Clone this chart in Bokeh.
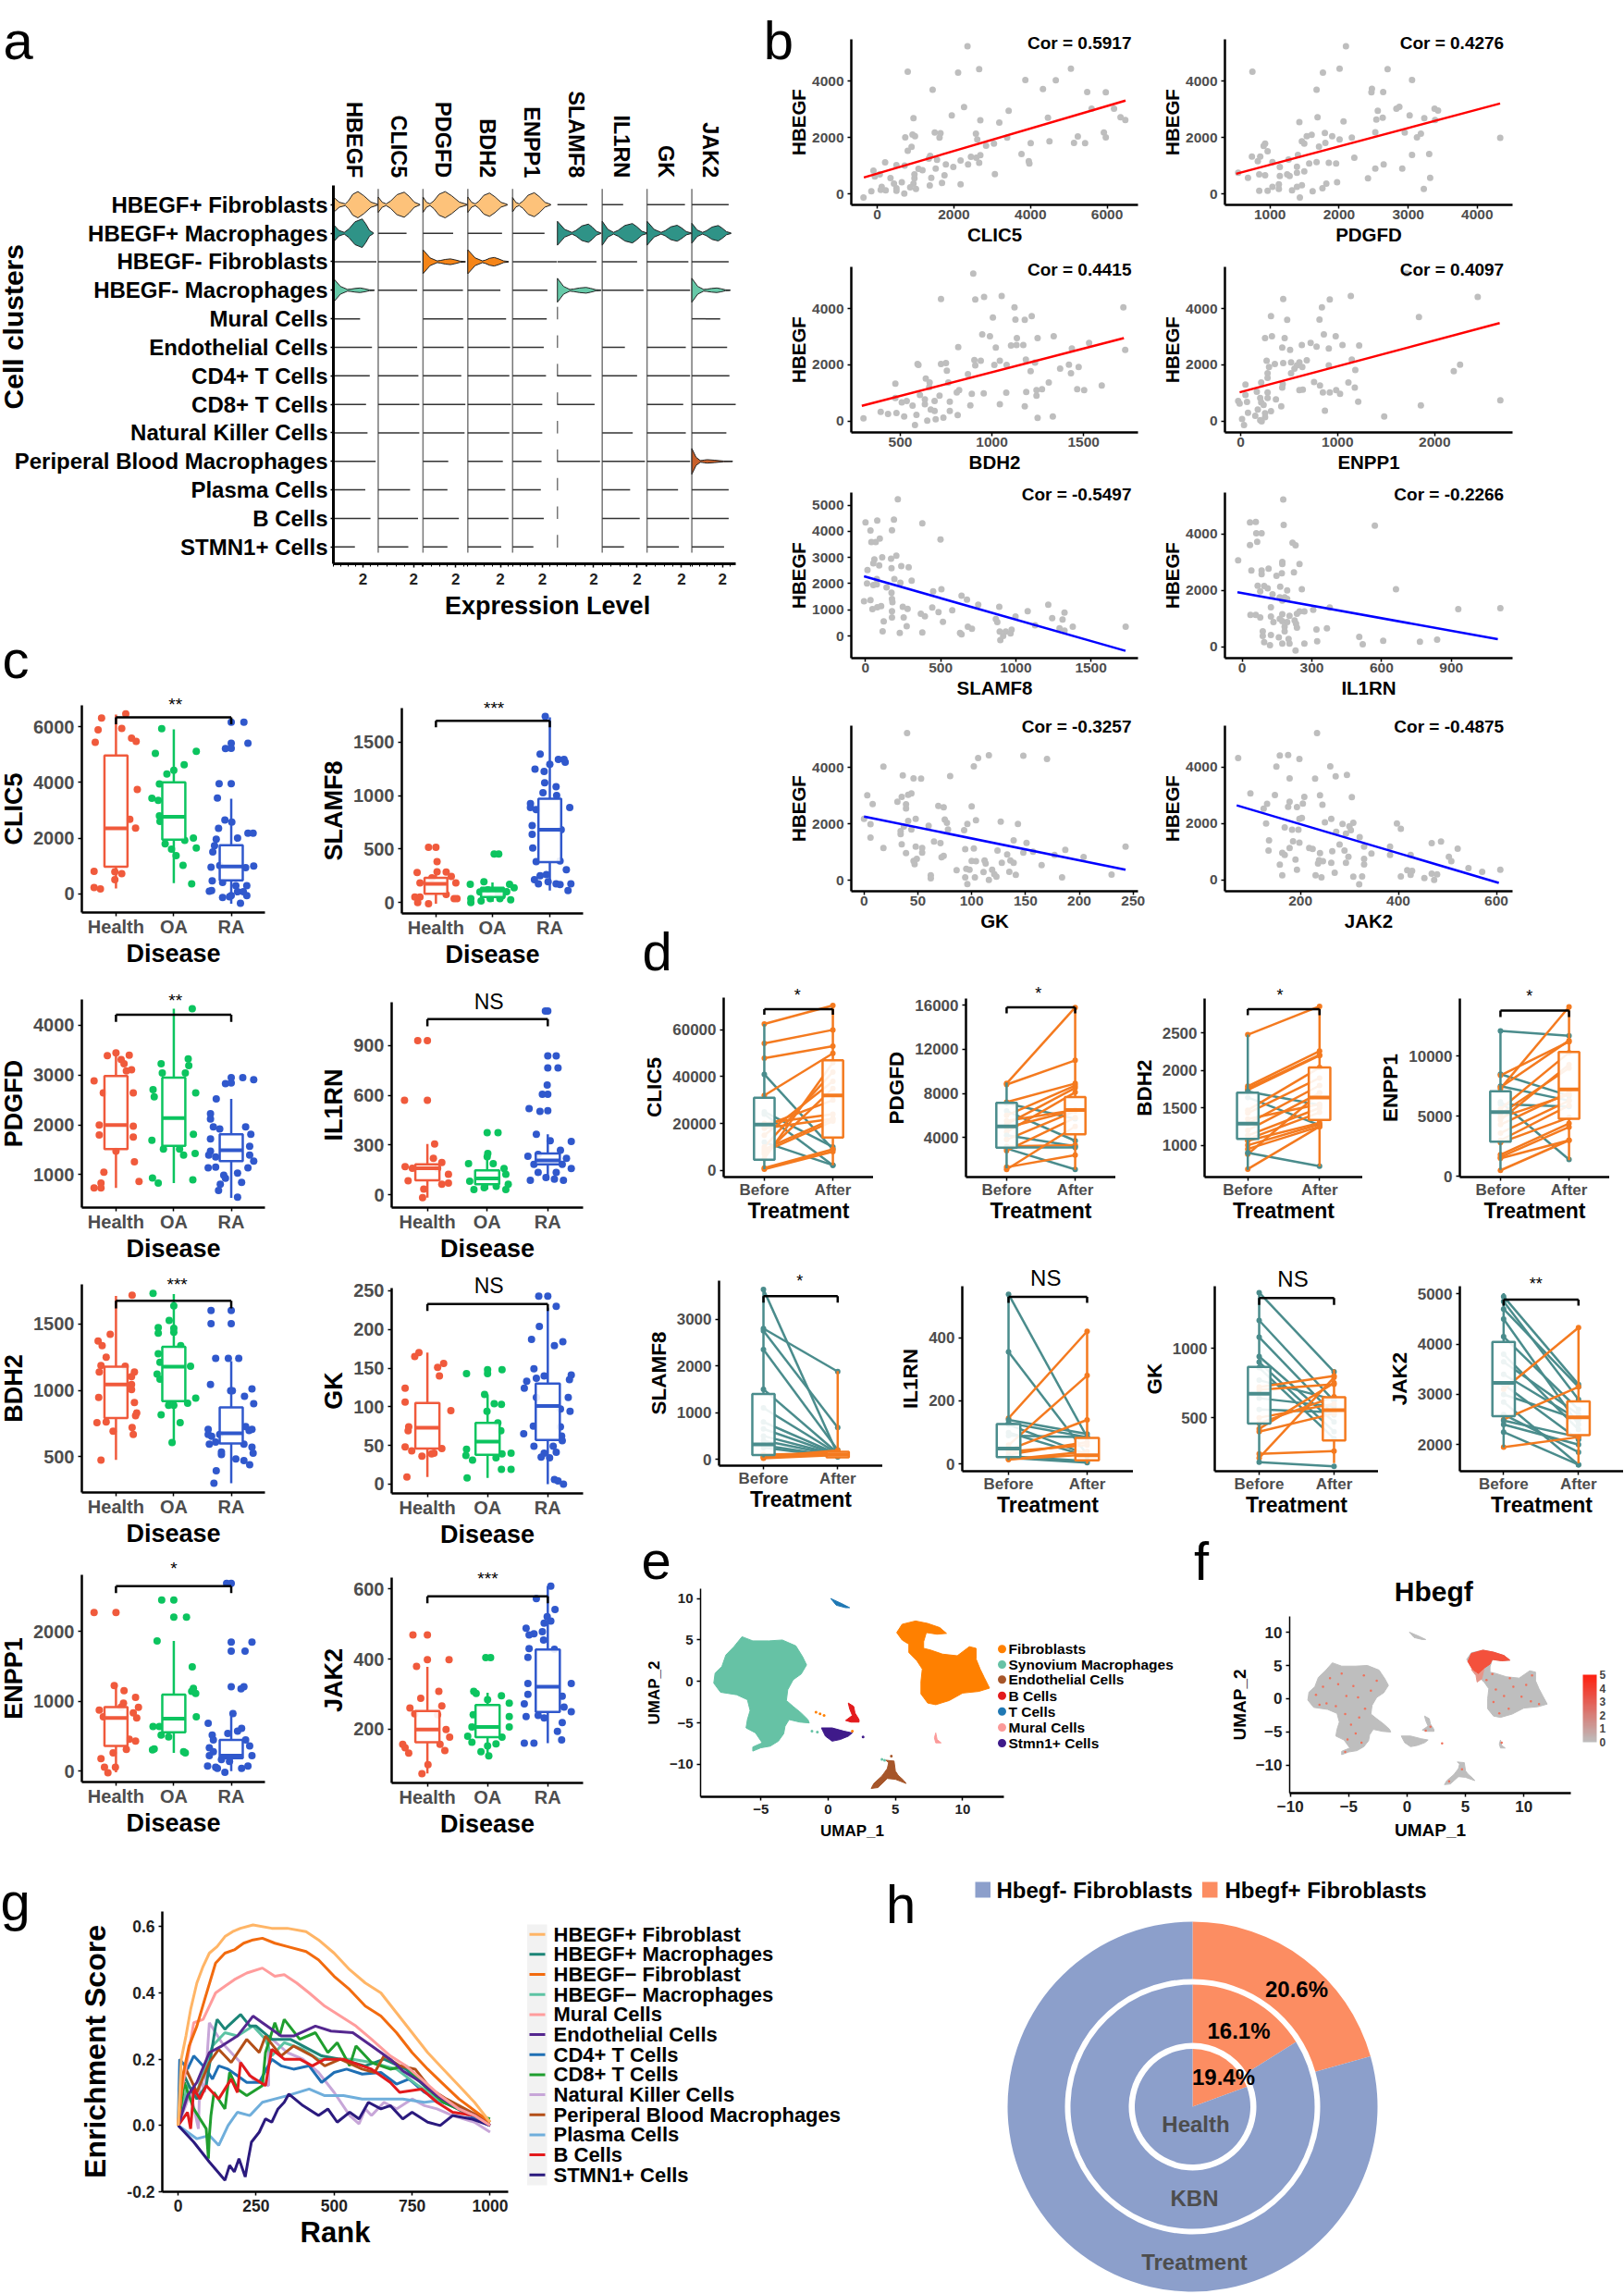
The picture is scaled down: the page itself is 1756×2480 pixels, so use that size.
from math import pi
from bokeh.plotting import figure
from bokeh.layouts import column
from bokeh.models import Range1d, FixedTicker, Label, ColorBar, LinearColorMapper, NumeralTickFormatter
from bokeh.core.properties import value
from bokeh.embed import file_html
from bokeh.resources import INLINE

FONT = "Liberation Sans"
GREY = "#4D4D4D"

# ---------------- panel a data ----------------
A_ROWS = ["HBEGF+ Fibroblasts","HBEGF+ Macrophages","HBEGF- Fibroblasts","HBEGF- Macrophages","Mural Cells","Endothelial Cells","CD4+ T Cells","CD8+ T Cells","Natural Killer Cells","Periperal Blood Macrophages","Plasma Cells","B Cells","STMN1+ Cells"]
A_GENES = ["HBEGF","CLIC5","PDGFD","BDH2","ENPP1","SLAMF8","IL1RN","GK","JAK2"]
A_XMAX = [3.02,2.53,2.75,2.75,3.02,2.47,2.57,2.60,2.92]
# (row, gene, zero-level height, neck, peak, peak height, end)
A_VIOLINS = [(0,0,.27,.8,1.65,.46,3.0),(0,1,.27,.45,1.47,.44,2.35),(0,2,.27,.43,1.36,.46,2.7),(0,3,.27,.46,1.33,.41,2.43),(0,4,.25,.44,1.46,.42,2.57),
 (1,0,.31,.73,1.94,.5,2.7),(1,5,.42,.8,1.71,.32,2.4),(1,6,.42,.65,1.73,.34,2.57),(1,7,.42,.82,1.75,.28,2.57),(1,8,.35,.7,1.72,.27,2.55),
 (2,2,.42,.87,1.68,.1,2.6),(2,3,.42,.9,1.62,.15,2.5),
 (3,0,.42,.95,1.8,.08,2.76),(3,5,.42,.68,1.58,.1,2.4),(3,8,.42,.77,1.63,.08,2.5),
 (9,8,.45,.55,1.0,.06,2.65)]
A_ROW_COLORS = {0:"#FDC27A",1:"#2F9387",2:"#F58518",3:"#66C9A8",9:"#C9602A"}
# end of the flat line per row, per gene (None: no line, 0: violin)
A_LINES = [
 [0,0,0,0,0,1.65,1.2,2.2,2.4],
 [0,1.6,1.85,2.1,2.15,0,0,0,0],
 [2.9,2.4,0,0,2.98,2.15,2.0,2.4,2.4],
 [0,2.2,2.45,2.0,2.35,0,2.37,2.5,0],
 [1.8,None,2.46,2.35,2.3,None,None,None,1.85],
 [2.6,2.2,2.5,2.6,2.1,None,1.3,2.25,2.3],
 [2.45,2.27,2.35,2.55,2.25,1.87,2.0,2.5,2.45],
 [2.2,2.32,2.6,2.65,2.0,2.05,None,2.1,2.9],
 [2.3,2.32,2.55,2.55,2.0,None,1.75,2.25,2.25],
 [2.85,None,1.55,2.15,1.95,2.35,2.45,2.5,0],
 [2.15,1.8,1.5,2.3,1.9,None,1.6,1.8,2.4],
 [2.5,2.25,2.2,2.5,2.1,None,2.15,2.45,2.4],
 [1.45,1.7,1.5,2.05,1.4,None,1.25,1.85,2.1]]

# ---------------- panel b data ----------------
B_CLIC5=[(2355,5240),(795,4340),(2110,4310),(2660,4430),(5055,4450),(3865,4045),(4660,4035),(4325,3725),(1445,3695),(5480,3615),(5965,3605),(2265,3080),(3430,2950),(5595,3025),(6180,3025),(1945,2785),(945,2685),(2690,2610),(3185,2530),(4455,2705),(6350,2720),(6475,2620),(1500,2180),(1650,2150),(730,2005),(920,2105),(985,2050),(1625,1995),(2575,2135),(2610,1930),(3390,1995),(5915,2180),(5235,2040),(5965,2005),(895,1665),(795,1525),(2840,1710),(3045,1785),(4005,1800),(4495,1865),(5135,1810),(5425,1800),(3765,1415),(3955,1160),(3970,1075),(205,1120),(1380,1350),(1345,1250),(1560,1205),(2175,1185),(2445,1315),(2585,1280),(2690,1370),(2660,1105),(2370,1040),(1790,1040),(1985,955),(1525,900),(1075,890),(1180,835),(500,1020),(715,1000),(-100,820),(65,690),(-65,615),(970,690),(970,550),(345,560),(1410,570),(1755,655),(3070,700),(640,415),(1690,385),(2175,340),(945,360),(435,360),(1370,295),(860,230),(115,250),(90,140),(220,120),(500,195),(500,110),(1010,175),(-155,90),(705,10),(-360,-130)]
B_PDGFD=[(2099,5240),(745,4340),(1766,4310),(2007,4450),(2702,4430),(3056,4045),(1674,3695),(2475,3735),(2468,3605),(2638,3615),(2560,2950),(3382,3025),(3432,2960),(2872,3090),(2829,3025),(3021,2785),(1688,2720),(2539,2640),(2631,2705),(3233,2685),(3389,2620),(1425,2545),(2064,2575),(1794,2160),(2524,2190),(2950,2180),(3184,2135),(4332,1985),(2184,1995),(2007,1930),(1900,2050),(1532,2050),(1603,2095),(1461,1865),(1496,1785),(1801,1810),(929,1785),(908,1700),(965,1510),(1709,1675),(3127,2005),(738,1325),(858,1325),(823,1160),(1404,1380),(3056,1380),(3304,1415),(1035,1130),(1269,1215),(2220,1280),(1142,950),(1390,965),(1567,1075),(1674,1130),(1851,1105),(1957,1075),(2524,900),(2645,1040),(2914,900),(539,745),(681,570),(844,690),(929,655),(1248,690),(1284,635),(1390,745),(1496,800),(1142,635),(2418,550),(3318,570),(1971,415),(1815,360),(1128,340),(1461,305),(1390,250),(1035,250),(844,110),(965,110),(1128,175),(1319,120),(1617,90),(1759,195),(3226,175),(1432,-130)]
B_BDH2=[(898,5240),(722,4340),(909,4320),(957,4415),(1053,4440),(1123,4045),(1717,4045),(1005,3680),(1128,3605),(1179,3595),(1217,3725),(947,3080),(989,3015),(1136,2950),(1249,2950),(1337,3015),(1530,2775),(816,2630),(1021,2610),(1104,2685),(1134,2705),(1171,2705),(1436,2575),(1727,2530),(594,2030),(599,1995),(722,2030),(749,2060),(904,2170),(939,2140),(909,1975),(1013,1995),(1043,2140),(1080,1995),(1185,2180),(1235,2080),(1420,2005),(1473,1920),(1372,1865),(1431,1700),(1211,1775),(754,1785),(869,1665),(639,1510),(473,1325),(660,1370),(762,1370),(1310,1370),(658,1205),(821,1095),(808,1020),(1243,1095),(1273,1130),(1187,1030),(1078,1010),(890,965),(955,985),(1243,900),(1465,1130),(1503,1095),(1599,1260),(607,930),(714,900),(473,820),(535,710),(508,660),(634,770),(687,710),(770,690),(567,550),(634,600),(882,560),(1043,600),(1179,525),(666,405),(687,360),(770,360),(393,330),(433,250),(479,285),(813,210),(521,165),(588,220),(1332,165),(1249,110),(299,100),(693,65),(735,120),(647,10),(580,-140)]
B_ENPP1=[(1712,5240),(439,4340),(919,4320),(1136,4440),(2444,4415),(838,4045),(313,3725),(480,3595),(813,3605),(1838,3695),(323,3015),(252,2950),(454,2950),(858,3080),(980,3015),(429,2610),(510,2530),(631,2705),(722,2775),(783,2640),(909,2575),(1050,2705),(1222,2685),(268,2140),(353,2030),(293,1920),(439,2060),(520,2085),(606,2085),(682,2160),(581,1975),(636,1920),(555,1865),(909,1975),(1146,2180),(1182,1810),(2197,1775),(2262,2005),(278,1700),(278,1535),(520,1700),(212,1370),(50,1295),(434,1315),(757,1390),(818,1260),(1111,1370),(1177,1185),(429,1185),(606,1095),(641,1115),(848,1020),(919,1020),(985,1095),(1025,965),(167,1040),(278,1020),(-25,710),(-10,625),(50,930),(66,680),(202,820),(278,820),(212,660),(237,570),(364,770),(1212,690),(1858,560),(2677,735),(419,525),(177,405),(313,350),(76,295),(151,185),(252,275),(252,140),(869,370),(1480,165),(15,75),(202,30),(217,-10),(35,-140)]
B_SLAMF8=[(215,5225),(0,4340),(78,4410),(189,4445),(378,4305),(33,4030),(176,4045),(499,3690),(95,3725),(39,3595),(68,3595),(111,3005),(59,2925),(170,2950),(205,3065),(52,2780),(91,2700),(173,2595),(238,2675),(287,2630),(13,2525),(307,2110),(75,2180),(192,2180),(232,2030),(10,2005),(52,1945),(75,1970),(140,1860),(173,1650),(450,1710),(505,1790),(639,1535),(675,1390),(750,1190),(176,1415),(179,1295),(33,1370),(-10,1330),(1216,1190),(890,1110),(1079,945),(104,1145),(78,1095),(46,1025),(176,945),(248,1110),(280,1035),(444,1085),(577,980),(486,910),(368,850),(395,755),(176,710),(254,710),(998,745),(1242,685),(1311,625),(1324,895),(867,650),(877,530),(121,555),(515,540),(274,375),(681,355),(708,270),(1128,410),(1379,355),(1291,295),(1731,355),(1324,200),(114,175),(378,130),(228,115),(629,115),(639,60),(893,165),(972,235),(933,165),(965,95),(916,0),(897,-155)]
B_IL1RN=[(177,5215),(179,4315),(34,4405),(59,4425),(571,4295),(61,4020),(84,4020),(65,3715),(34,3605),(217,3685),(230,3595),(-17,3060),(173,3005),(173,2930),(247,2930),(114,2765),(40,2700),(84,2700),(84,2570),(148,2515),(171,2600),(223,2635),(67,2165),(95,2155),(110,2075),(164,2130),(194,2000),(257,2035),(662,2035),(78,1965),(131,1860),(162,1750),(183,1750),(194,1695),(173,1640),(124,1400),(377,1390),(930,1335),(1111,1365),(247,1255),(268,1255),(306,1310),(36,1125),(59,1125),(78,1040),(124,1070),(173,1150),(204,1095),(236,1170),(162,985),(135,875),(173,905),(194,875),(226,930),(232,820),(183,710),(236,680),(183,545),(89,545),(320,610),(365,655),(89,380),(124,415),(158,330),(504,350),(95,165),(120,55),(173,110),(200,275),(204,110),(268,110),(323,195),(519,90),(607,210),(765,175),(839,250),(230,-130)]
B_GK=[(40,5230),(18,4035),(102,4045),(106,4340),(116,4440),(148,4420),(170,4310),(36,3725),(46,3615),(53,3605),(80,3695),(3,3015),(44,3080),(41,3035),(35,2960),(8,2705),(31,2785),(39,2695),(39,2545),(69,2640),(74,2585),(100,2620),(0,2180),(48,2180),(75,2150),(77,2040),(104,2125),(127,2080),(143,1995),(41,2105),(6,1985),(96,1995),(37,1905),(34,1740),(60,1930),(44,1800),(34,1635),(78,1800),(93,1775),(6,1510),(139,1415),(65,1370),(71,1315),(151,1325),(35,1270),(18,1140),(48,1195),(54,1140),(54,975),(39,965),(94,1105),(102,1130),(124,1050),(148,975),(157,1010),(187,1075),(243,1195),(74,865),(72,810),(133,910),(177,900),(204,820),(49,755),(46,680),(47,570),(100,680),(104,670),(112,700),(113,590),(128,615),(136,700),(139,615),(165,535),(86,350),(95,405),(98,370),(111,285),(119,370),(135,295),(121,210),(141,185),(62,175),(62,65),(94,100),(103,100),(123,120),(184,100),(230,195),(116,10),(96,-140)]
B_JAK2=[(234,5200),(73,4320),(158,4405),(175,4425),(198,4285),(261,4020),(151,4010),(272,3670),(295,3715),(230,3585),(178,3595),(98,3060),(148,3005),(208,2940),(240,2995),(305,2930),(178,2765),(132,2690),(175,2590),(193,2580),(205,2700),(245,2665),(125,2525),(198,2165),(203,2195),(263,2165),(250,2035),(308,2020),(286,1980),(300,1900),(397,2000),(130,2000),(168,1860),(183,1780),(196,1780),(273,1705),(303,1760),(405,1805),(293,1640),(321,1510),(136,1400),(185,1365),(198,1320),(280,1255),(330,1180),(383,1180),(487,1355),(468,1300),(135,1040),(178,1125),(218,1125),(225,1095),(265,1015),(290,1040),(521,1105),(163,960),(168,885),(240,950),(298,820),(345,930),(383,885),(425,885),(190,720),(238,690),(246,665),(330,745),(503,820),(508,665),(158,535),(236,580),(263,600),(293,600),(330,545),(543,415),(193,360),(418,340),(428,320),(608,360),(571,285),(270,250),(163,165),(231,165),(243,85),(308,110),(326,120),(405,120),(425,175),(468,220),(479,195),(453,65),(473,0),(320,-155)]
B_FITS={"CLIC5":[(-350,580),(6480,3310)],"PDGFD":[(510,710),(4330,3210)],"BDH2":[(290,540),(1720,2950)],"ENPP1":[(-10,1020),(2670,3480)],"SLAMF8":[(-10,2280),(1730,-570)],"IL1RN":[(-20,1930),(1100,270)],"GK":[(0,2260),(243,370)],"JAK2":[(70,2640),(605,-110)]}
B_COR={"CLIC5":"0.5917","PDGFD":"0.4276","BDH2":"0.4415","ENPP1":"0.4097","SLAMF8":"-0.5497","IL1RN":"-0.2266","GK":"-0.3257","JAK2":"-0.4875"}

# ---------------- panel c data: (jitter, value) ----------------
C_GROUPS=["Health","OA","RA"]
CLIC5_H=[(-.25,6320),(-.31,5900),(-.36,5450),(.17,6470),(.10,5950),(.27,5600),(.35,5480),(.37,3750),(.24,2680),(.34,2360),(-.38,800),(-.38,220),(-.27,175),(-.02,790),(.10,720),(-.02,500)]
CLIC5_O=[(-.21,5940),(-.32,5050),(.39,5120),(.18,4640),(0,4440),(-.12,4310),(-.25,3950),(-.38,3430),(-.27,3360),(-.25,2800),(-.24,2600),(.34,2000),(.19,1920),(.39,1640),(-.15,1790),(-.04,1600),(.04,1370),(.16,1020),(.31,350)]
CLIC5_R=[(0,6170),(.22,6170),(0,5410),(.29,5410),(-.1,5220),(0,5230),(-.21,3960),(0,3960),(-.24,3440),(-.11,2650),(.01,2580),(-.22,2350),(.29,2180),(.38,2180),(.11,2000),(-.26,1960),(-.29,1730),(-.32,1500),(.39,995),(-.35,950),(-.2,1010),(.25,940),(-.33,460),(-.15,400),(.27,290),(.08,290),(-.34,115),(-.38,90),(-.15,-140),(0,-70),(.11,70),(.27,-70),(.16,-345),(-.03,-115),(.21,70)]
CLIC5_BOX=[(966,2350,4975,190,6450),(1945,2770,4010,375,5910),(475,975,1745,-360,3420)]
SLAMF8_H=[(-.13,517),(0,517),(.02,382),(-.33,281),(.18,285),(.27,244),(.02,289),(-.07,232),(.35,184),(-.28,184),(-.37,52),(-.28,52),(-.32,0),(-.13,-11),(.32,37),(.37,37),(.18,75)]
SLAMF8_O=[(.03,454),(.11,454),(-.39,172),(-.15,195),(-.38,37),(-.38,0),(-.2,15),(-.04,37),(.13,37),(.32,26),(.3,172),(.38,139),(.25,101),(-.22,100),(.1,82),(-.08,120),(.17,64)]
SLAMF8_R=[(-.08,1740),(-.17,1388),(.15,1339),(.25,1339),(.27,1312),(-.26,1249),(-.1,1226),(0,1294),(-.09,1121),(.11,1084),(-.12,1028),(.12,1001),(-.34,926),(-.34,889),(.35,889),(-.24,870),(-.31,720),(-.31,638),(.2,682),(-.3,510),(-.24,382),(.18,390),(.29,307),(-.17,251),(-.06,262),(-.27,214),(-.2,176),(-.03,195),(.11,176),(.18,169),(.37,176),(.32,112)]
SLAMF8_BOX=[(82,176,232,-11,289),(52,112,139,7,188),(379,682,971,112,1732)]
PDGFD_H=[(0,3444),(-.15,3388),(.23,3396),(.09,3307),(.14,3227),(.27,3106),(.18,3082),(-.38,2881),(-.22,2640),(.3,2640),(-.29,1997),(.3,1973),(-.29,1796),(.3,1756),(0,1474),(.32,1257),(-.21,1048),(-.26,831),(.4,863),(-.38,735),(-.26,735)]
PDGFD_O=[(.32,4329),(.25,3323),(.26,3187),(-.22,3227),(-.2,3042),(.2,3042),(-.36,2705),(-.34,2560),(.38,2640),(-.38,1691),(.34,1812),(.37,1426),(-.18,1514),(.1,1514),(.17,1394),(-.37,936),(-.27,831),(.33,895)]
PDGFD_R=[(.2,2946),(.39,2906),(0,2946),(-.1,2825),(0,2841),(-.26,2520),(-.36,2222),(-.36,2118),(-.31,1957),(.25,1957),(-.2,1917),(.34,1812),(-.36,1716),(-.36,1474),(.32,1571),(-.39,1394),(-.27,1354),(.32,1394),(.39,1273),(-.4,1137),(-.27,1153),(.29,1137),(-.13,992),(-.1,928),(.11,1032),(.18,847),(-.19,807),(-.22,686),(.11,550)]
PDGFD_BOX=[(1515,1997,2978,735,3444),(1579,2134,2946,831,4329),(1273,1490,1812,534,2520)]
IL1RN_H=[(-.16,929),(0,929),(-.38,569),(0,569),(.12,306),(-.37,169),(-.25,160),(.1,220),(.24,195),(.17,160),(.35,123),(.35,70),(-.32,84),(-.06,34),(-.08,-17),(.24,63)]
IL1RN_O=[(.18,374),(0,374),(.01,249),(0,229),(-.31,188),(.1,188),(.28,159),(-.29,82),(.31,123),(.35,63),(-.22,31),(-.05,43),(.15,51),(.31,31)]
IL1RN_R=[(-.04,1108),(0,1108),(0,837),(.14,837),(0,765),(.17,765),(-.01,661),(-.09,606),(0,606),(-.31,519),(-.13,502),(0,507),(-.19,364),(.04,326),(.39,321),(.21,268),(-.33,232),(-.16,244),(.31,220),(.24,183),(-.23,183),(.39,159),(-.16,135),(.14,135),(-.03,104),(-.29,87),(.11,94),(.26,87)]
IL1RN_BOX=[(87,160,183,-17,306),(63,99,147,31,244),(183,207,249,87,364)]
BDH2_H=[(.28,1718),(-.1,1423),(-.31,1373),(-.24,1338),(-.17,1250),(-.26,1188),(.16,1182),(.32,1138),(-.29,1138),(.27,1103),(.27,1044),(.27,1006),(-.3,947),(.32,909),(.36,829),(.34,809),(-.33,756),(-.17,762),(.28,720),(-.05,691),(.3,668),(-.26,474)]
BDH2_O=[(-.36,1732),(0,1638),(-.08,1527),(-.27,1474),(0,1468),(0,1438),(-.27,1432),(.12,1338),(-.27,1276),(-.24,1212),(.29,1182),(-.29,1123),(-.24,1085),(.38,941),(.24,903),(-.09,888),(0,888),(-.22,815),(.11,756),(-.03,606)]
BDH2_R=[(-.35,1603),(0,1603),(-.35,1503),(0,1503),(-.27,1241),(-.05,1241),(.13,1241),(-.36,1044),(-.01,997),(.02,997),(.36,1012),(.23,956),(.39,900),(.25,726),(.36,706),(.31,697),(-.4,706),(-.4,668),(-.34,653),(-.38,594),(-.2,668),(-.27,609),(.22,594),(.36,571),(-.17,535),(-.17,515),(.38,526),(.08,482),(.22,471),(.32,438),(-.26,394),(-.3,300)]
BDH2_BOX=[(791,1044,1179,476,1712),(918,1179,1329,609,1726),(600,676,871,300,1220)]
GK_H=[(-.14,170),(-.21,165),(.27,156),(.17,151),(.2,140),(-.37,124),(-.37,106),(.39,95),(-.31,74),(-.32,69),(-.37,48),(-.26,43),(.24,46),(-.09,36),(.11,40),(.07,39),(-.34,9)]
GK_O=[(-.35,143),(0,148),(0,143),(.24,148),(-.05,116),(.11,104),(.23,103),(-.01,94),(.17,79),(.22,69),(-.35,45),(-.36,37),(-.25,31),(.39,40),(.24,39),(.14,34),(.23,19),(.39,19),(-.34,8)]
GK_R=[(-.15,243),(0,243),(.14,230),(-.14,204),(-.27,187),(.25,184),(.11,179),(-.23,149),(.39,141),(-.06,140),(-.19,137),(.36,135),(-.35,133),(-.39,124),(.34,112),(-.19,112),(.21,97),(.37,94),(-.24,75),(.21,74),(-.4,65),(.23,62),(.24,56),(-.23,49),(.09,49),(.14,41),(-.06,40),(-.11,35),(.03,34),(.11,6),(.17,4),(.26,0)]
GK_BOX=[(46,73,105,9,170),(38,55,79,8,116),(57,101,130,0,228)]
ENPP1_H=[(-.38,2272),(0,2272),(-.03,1225),(.14,1153),(.34,1058),(.39,913),(-.29,874),(.13,975),(.09,919),(.3,835),(-.22,780),(.36,763),(.23,457),(.34,429),(.18,312),(-.05,262),(-.26,178),(-.2,56),(-.01,56),(-.14,-22)]
ENPP1_O=[(-.21,2451),(0,2451),(0,2206),(.22,2206),(-.29,1866),(.32,1493),(.34,1186),(.31,1142),(.38,1114),(.39,780),(-.36,640),(-.25,640),(-.22,518),(-.09,490),(-.37,306),(-.34,318),(.17,278),(.2,262)]
ENPP1_R=[(-.08,2690),(0,2690),(0,1849),(.36,1849),(0,1721),(.24,1721),(0,1209),(.22,1209),(.17,1181),(.03,824),(-.4,685),(.18,613),(.11,574),(-.06,540),(-.33,518),(-.31,446),(.25,446),(.32,362),(-.38,334),(-.31,278),(-.38,223),(.36,223),(-.17,167),(-.03,139),(-.41,72),(-.27,56),(.29,72),(.18,39),(-.24,39),(-.11,-17)]
ENPP1_BOX=[(362,763,919,-17,1225),(557,752,1097,262,1866),(184,223,446,0,824)]
JAK2_H=[(-.24,469),(0,469),(.36,398),(0,398),(-.18,379),(-.11,288),(.19,308),(-.29,260),(.24,266),(-.21,244),(.17,241),(.31,199),(.37,177),(-.41,157),(-.37,147),(-.31,132),(.21,157),(.29,139),(.01,99),(-.09,73)]
JAK2_O=[(-.03,404),(.05,404),(-.23,308),(-.19,302),(.23,295),(0,284),(.36,274),(-.24,241),(.36,236),(.36,206),(-.26,206),(-.33,180),(.24,177),(-.26,163),(.14,158),(0,152),(-.11,136),(.02,124)]
JAK2_R=[(.05,608),(-.19,572),(.12,541),(-.01,521),(.05,508),(-.06,502),(-.36,488),(-.09,478),(-.23,472),(-.31,469),(-.07,454),(-.31,430),(.11,428),(-.33,405),(.39,330),(-.33,330),(.24,294),(-.33,299),(-.39,272),(.27,263),(.39,250),(-.36,236),(-.16,239),(-.06,232),(.24,219),(.16,194),(-.39,160),(-.23,160),(.23,169)]
JAK2_BOX=[(163,199,252,74,378),(177,206,269,124,304),(249,321,427,160,608)]

# ---------------- panel d data ----------------
D_CLIC5_B=[62500,54200,47900,41000,32000,25000,24000,20000,19000,18000,15000,12000,10000,9000,8000,7000,5000,1000,500]
D_CLIC5_A=[70400,60000,53000,9000,50000,10000,2200,24000,30000,22000,38000,2200,42000,22000,21000,35000,46000,9000,8000]
D_PDGFD_B=[8900,8800,7200,7100,6400,6000,5500,5200,4900,4500,4200,3800,3200,3100,3000,2800,1300,1100]
D_PDGFD_A=[15800,11000,8900,5700,3700,8700,6500,8500,6500,8100,3200,6400,3300,3100,1100,5800,2400,5000]
D_BDH2_B=[2480,1790,1760,1740,1720,1640,1470,1430,1350,1290,1200,1130,1080,1060,1000,950,880,900,680]
D_BDH2_A=[2860,2260,2210,2200,1540,1270,2040,1900,1550,1800,1700,1500,1440,1300,1280,1250,1700,720,1250]
D_ENPP1_B=[12100,8500,8400,7500,7400,7300,6200,6000,5600,5200,4900,4700,4300,3600,3000,2800,1800,1600,1500,500]
D_ENPP1_A=[11700,6700,11200,6300,11300,14100,1400,5800,10300,9000,6800,9300,7000,6300,5900,4900,4400,4100,3000,3000]
D_SLAMF8_B=[3640,2800,2750,2350,1500,1100,800,650,500,400,300,250,100,50,30,20,60]
D_SLAMF8_A=[100,1880,680,200,130,120,110,100,90,80,60,50,130,190,170,90,110]
D_IL1RN_B=[537,355,145,140,130,125,100,90,60,45,40,30,25,20,15,15]
D_IL1RN_A=[85,30,420,95,85,30,25,85,280,140,60,70,10,5,40,30]
D_GK_B=[1400,1200,1080,940,900,860,770,720,700,640,560,500,460,420,400,240,210,180]
D_GK_A=[830,620,520,470,400,350,630,800,740,580,540,600,650,750,530,260,790,150]
D_JAK2_B=[4950,4850,4700,4500,4150,3800,3650,3400,3200,3100,3000,2850,2600,2500,2480,2400,2250,1950]
D_JAK2_A=[3200,2900,3150,2400,2700,2300,2600,2500,2100,4330,2500,1600,1850,3150,2150,2000,1600,2150]
D_CLIC5_BOX=[(4500,19500,31000,500,62500),(14000,32000,47000,2200,70400)]
D_PDGFD_BOX=[(3070,4995,7150,1200,9000),(4290,6500,7660,1080,15970)]
D_BDH2_BOX=[(1085,1290,1705,670,2480),(1340,1640,2040,716,2860)]
D_ENPP1_BOX=[(2880,5350,7085,530,12170),(4790,7230,10350,1350,14200)]
D_SLAMF8_BOX=[(90,320,1400,40,3640),(40,100,160,15,1890)]
D_IL1RN_BOX=[(22,49,127,13,537),(12,28,83,2,422)]
D_GK_BOX=[(457,673,865,196,1395),(337,554,648,173,847)]
D_JAK2_BOX=[(2565,3228,4047,1944,5015),(2190,2544,2861,1626,4344)]

# ---------------- panels e, f data (UMAP outlines) ----------------
U_MACRO=[(-6.4,5.4),(-5.6,4.9),(-4.4,4.9),(-3.4,5.0),(-2.4,4.3),(-1.9,3),(-1.6,2),(-2.0,0.9),(-2.6,0.2),(-3,-1),(-3.1,-2.3),(-2.6,-3),(-2,-3.8),(-1.5,-4.6),(-1.4,-5),(-2.1,-4.9),(-2.9,-4.6),(-3.2,-5.4),(-3.3,-6.3),(-3.7,-7.2),(-4.3,-7.8),(-5,-8),(-5.6,-8.4),(-5.6,-7.9),(-4.9,-7.4),(-5.4,-6.2),(-6.1,-5.6),(-6.0,-4.6),(-5.8,-3.5),(-6.0,-2.2),(-6.8,-1.6),(-8,-1.3),(-8.5,-0.2),(-8.4,1.0),(-7.9,1.8),(-7.6,3.2),(-7,4.2)]
U_FIBRO=[(5.1,5.9),(5.5,6.9),(6.5,7.3),(7.4,7.0),(8.3,6.5),(8.8,5.8),(8.1,5.7),(7.3,5.9),(7.1,4.8),(7.1,4.0),(7.6,3.8),(8.5,3.3),(9.6,3.1),(10.5,4.2),(11,4.0),(11,2.7),(11.3,1.5),(11.6,0.5),(12,-0.8),(11.2,-1.2),(10,-1.4),(9,-2.3),(8,-2.8),(7.4,-2.6),(6.9,-1.5),(6.9,0),(7.0,1.5),(6.6,2.5),(6,3.5),(6,4.5),(5.5,5)]
U_ENDO=[(4.3,-9.5),(4.9,-9.6),(5,-10.8),(5.2,-11.3),(5.6,-11.9),(5.8,-12.3),(5,-11.8),(4.4,-11.7),(3.7,-12.8),(3.2,-12.9),(3.4,-12.3),(4,-11.4),(4.4,-10.5),(4.5,-9.8)]
U_B=[(1.5,-2.6),(1.9,-3),(2,-3.8),(2.3,-4.6),(2.3,-4.9),(1.7,-4.9),(1.3,-4.7),(1.8,-4.1),(1.6,-3.3)]
U_T=[(0.2,10),(1,9.4),(1.6,8.9),(1.3,8.9),(.6,9.2)]
U_MURAL=[(8,-6.2),(8.1,-7),(8.4,-7.4),(8,-7.4),(7.9,-6.8)]
U_STMN=[(-0.5,-5.6),(0.3,-5.6),(1.2,-6),(1.8,-6.2),(1.5,-6.6),(.9,-7),(.3,-7.2),(-.2,-6.6)]
U_STRAY=[(-.9,-3.7,"#FF8000"),(-.6,-3.9,"#FF8000"),(-.3,-4.1,"#FF8000"),(2.6,-6.7,"#3F1A8A"),(-1.2,-6,"#66C2A5"),(-.8,-6.1,"#66C2A5"),(4,-9.4,"#66C2A5"),(4.2,-9.5,"#66C2A5"),(4.7,-9,"#A6562A"),(1.8,-6,"#FF8000")]
E_NAMES=["Fibroblasts","Synovium Macrophages","Endothelial Cells","B Cells","T Cells","Mural Cells","Stmn1+ Cells"]
E_COLORS=["#FF8000","#66C2A5","#A6562A","#E31A1C","#1F78B4","#FB9A99","#3F1A8A"]
F_HOT1=[(5.2,5.6),(5.5,6.8),(6.5,7.3),(7.4,7.0),(8.3,6.5),(8.8,5.8),(8.1,5.7),(7.3,5.9),(7.1,5.2),(6.6,4.6),(6.1,3.8),(5.6,4.4)]
F_HOT2=[(5.5,4.4),(6.1,3.8),(6.6,4.6),(6.4,3),(6,2.5),(5.9,3.5)]
F_SPECK=[(-7.8,0.6),(-7.2,1.8),(-6.6,3.1),(-5.9,2.2),(-5.2,0.4),(-4.6,1.9),(-3.7,3.5),(-3.1,1.2),(-6.9,-0.7),(-6.1,-1.1),(-5.3,-2.3),(-4.8,-3.9),(-4.1,-2.8),(-3.6,-1.5),(-4.4,-5.2),(-5.1,-6.1),(-3.9,-6.6),(-5.3,-8),(-7.5,-0.9),(-2.6,2.7),(-5.6,3.8),(-4.2,0.2),(7.6,1.4),(8.3,0.4),(9.1,1.8),(9.8,0.3),(10.6,-0.4),(11.3,-0.8),(8.7,-1.5),(7.9,-2.2),(7.4,-0.5),(10.2,2.1),(10.7,3.5),(8.8,3.1),(7.3,3.7),(6.8,2.8),(2,-4.2),(1.6,-4.8),(3,-6.7),(8.1,-6.6),(4.7,-10.6),(3.6,-12.4)]
F_TICKS=[0,1,2,3,4,5]

# ---------------- panel g data ----------------
G_NAMES=["HBEGF+ Fibroblast","HBEGF+ Macrophages","HBEGF\u2212 Fibroblast","HBEGF\u2212 Macrophages","Mural Cells","Endothelial Cells","CD4+ T Cells","CD8+ T Cells","Natural Killer Cells","Periperal Blood Macrophages","Plasma Cells","B Cells","STMN1+ Cells"]
G_COLORS=["#FFB566","#1B8577","#F26B0F","#5CC3A3","#FF9C9C","#54278F","#1F6FB4","#1F9E2E","#C7A6D8","#B34F18","#6FAEDB","#E31A1C","#2B1A7E"]
G_FIBP=[(0,0),(10,.2),(25,.27),(40,.35),(60,.43),(80,.48),(100,.52),(125,.54),(150,.57),(175,.585),(200,.595),(240,.605),(300,.595),(350,.595),(410,.585),(450,.56),(500,.52),(550,.47),(600,.43),(650,.4),(700,.34),(750,.28),(800,.22),(850,.17),(900,.12),(950,.07),(1000,.01)]
G_MACP=[(0,0),(20,.15),(40,.11),(60,.08),(90,.12),(120,.3),(125,.32),(150,.29),(160,.3),(200,.335),(230,.3),(250,.3),(300,.26),(360,.26),(400,.24),(460,.21),(520,.2),(600,.18),(660,.2),(730,.17),(800,.11),(870,.07),(930,.04),(1000,.01)]
G_FIBM=[(0,0),(15,.15),(35,.24),(60,.3),(85,.38),(120,.49),(150,.52),(180,.53),(210,.55),(240,.56),(270,.565),(310,.55),(350,.54),(410,.525),(450,.5),(500,.45),(550,.41),(600,.36),(650,.33),(700,.28),(750,.22),(800,.17),(850,.125),(900,.08),(950,.045),(1000,.01)]
G_MACM=[(0,0),(30,.12),(60,.1),(110,.24),(150,.28),(190,.27),(240,.3),(280,.26),(300,.21),(340,.25),(400,.23),(450,.2),(500,.2),(560,.2),(620,.19),(700,.17),(770,.12),(830,.08),(900,.05),(960,.03),(1000,.01)]
G_MURAL=[(0,0),(10,.1),(30,.2),(50,.31),(80,.32),(100,.36),(120,.4),(150,.42),(180,.44),(220,.46),(270,.475),(310,.45),(340,.455),(380,.43),(420,.4),(470,.36),(520,.33),(570,.3),(620,.26),(680,.21),(730,.18),(780,.14),(840,.09),(900,.05),(950,.03),(1000,0)]
G_ENDO=[(0,0),(30,.09),(60,.13),(100,.22),(140,.24),(190,.27),(240,.33),(270,.31),(330,.27),(370,.27),(440,.3),(490,.285),(560,.28),(620,.24),(680,.2),(720,.165),(780,.13),(830,.09),(900,.05),(950,.03),(1000,0)]
G_CD4=[(0,0),(5,.2),(30,.17),(50,.21),(90,.17),(110,.14),(130,.18),(160,.17),(190,.15),(220,.13),(260,.13),(300,.2),(330,.18),(370,.17),(420,.18),(460,.13),(500,.16),(540,.17),(590,.155),(650,.16),(700,.125),(740,.14),(790,.1),(850,.07),(920,.04),(1000,0)]
G_CD8=[(0,0),(20,.13),(50,.05),(90,-.01),(97,-.1),(100,-.03),(105,.03),(115,.1),(150,.05),(165,.16),(190,.11),(220,.09),(270,.12),(280,.22),(310,.31),(325,.27),(340,.32),(390,.26),(440,.28),(480,.22),(510,.25),(550,.18),(570,.24),(620,.19),(680,.17),(730,.18),(790,.12),(850,.07),(920,.04),(1000,.02)]
G_NK=[(0,0),(40,.1),(65,-.01),(70,.15),(85,.1),(100,.31),(140,.25),(200,.19),(240,.14),(290,.12),(290,.27),(350,.22),(400,.2),(450,.16),(500,.1),(550,.03),(580,.005),(600,.05),(620,.03),(660,.07),(700,.05),(750,.08),(790,.06),(830,.05),(880,.03),(950,.01),(1000,-.02)]
G_PBM=[(0,0),(10,.1),(25,.17),(60,.1),(100,.19),(130,.23),(170,.19),(220,.26),(260,.22),(280,.27),(330,.21),(370,.24),(430,.21),(470,.18),(520,.2),(590,.17),(630,.16),(660,.21),(710,.18),(760,.17),(810,.11),(860,.08),(920,.05),(1000,.01)]
G_PLASMA=[(0,0),(30,-.02),(60,-.04),(100,-.03),(130,-.06),(160,0),(190,.04),(230,.03),(270,.07),(310,.08),(350,.09),(420,.11),(470,.09),(530,.09),(590,.08),(650,.08),(720,.08),(790,.07),(830,.075),(880,.06),(930,.03),(1000,0)]
G_B=[(0,0),(30,.04),(40,-.01),(50,.11),(70,.08),(90,.12),(130,.08),(170,.14),(190,.1),(200,.19),(230,.15),(280,.12),(300,.23),(340,.2),(390,.2),(430,.18),(470,.2),(530,.2),(590,.18),(620,.17),(680,.13),(710,.1),(780,.11),(830,.07),(880,.04),(950,.03),(1000,0)]
G_STMN=[(0,0),(50,-.05),(100,-.11),(150,-.165),(165,-.12),(180,-.14),(195,-.1),(215,-.155),(225,-.1),(235,-.05),(260,-.02),(280,.02),(300,.01),(320,.05),(340,.07),(355,.095),(400,.06),(450,.03),(480,.05),(510,.01),(550,.04),(580,.02),(610,.07),(650,.05),(680,.06),(720,.02),(750,.04),(800,.01),(840,0),(880,.03),(940,.02),(1000,0)]

# ---------------- panel h data ----------------
H_PCT=[19.4,16.1,20.6]
H_RINGS=["Health","KBN","Treatment"]
H_LEGEND=["Hbegf- Fibroblasts","Hbegf+ Fibroblasts"]

# ---------------- helpers ----------------
FIGS=[]; GEOM={}; OVERLAY=[]
def V(z,z0,v0,z1,v1):
    return v0+(z-z0)*(v1-v0)/(z1-z0)

def place(p,x,y):
    p.styles={"position":"absolute","left":f"{x:.0f}px","top":f"{y:.0f}px"}
    FIGS.append(p)

def panel(crop,zl,zr,zb,zt,xcal,ycal,L=130,B=90,T=14,R=6):
    ox,oy,fx,fy=crop
    x0=ox+zl/fx; x1=ox+zr/fx; y0=oy+zt/fy; y1=oy+zb/fy
    W=round(x1-x0); H=round(y1-y0)
    p=figure(width=L+W+R,height=T+H+B,frame_width=W,frame_height=H,frame_align=False,
             x_range=Range1d(V(zl,*xcal),V(zr,*xcal)),y_range=Range1d(V(zb,*ycal),V(zt,*ycal)),
             min_border_left=L,min_border_right=R,min_border_top=T,min_border_bottom=B,
             output_backend="svg",toolbar_location=None,background_fill_alpha=0,border_fill_alpha=0,outline_line_color=None)
    p.grid.visible=False
    place(p,x0-L,y0-T)
    GEOM[p.id]=(round(x0-L)+L,round(y0-T)+T,W,H)
    return p

def style(ax,ts,ls,ts_off=4,l_off=6,lw=2.5,tick_color=GREY):
    ax.axis_line_width=lw; ax.axis_line_color="black"
    ax.major_tick_line_color="black"; ax.major_tick_in=0; ax.major_tick_out=4; ax.major_tick_line_width=1.5
    ax.minor_tick_in=0; ax.minor_tick_out=0
    ax.major_label_text_font=FONT; ax.major_label_text_font_style="bold"; ax.major_label_text_color=tick_color
    ax.major_label_text_font_size=f"{ts}px"; ax.major_label_standoff=ts_off
    ax.axis_label_text_font=FONT; ax.axis_label_text_font_style="bold"; ax.axis_label_text_color="black"
    ax.axis_label_text_font_size=f"{ls}px"; ax.axis_label_standoff=l_off

def note(p,x,y,t,size,bold=True,color="black",align="center",base="middle",angle=0):
    # texts that sit outside a panel's frame: the page overlay carries them
    x0,y0,W,H=GEOM[p.id]
    px=x0+(x-p.x_range.start)/(p.x_range.end-p.x_range.start)*W
    py=y0+H-(y-p.y_range.start)/(p.y_range.end-p.y_range.start)*H
    OVERLAY.append((px,py,t,size,bold,color,align,base,angle))

def xs(pts): return [a[0] for a in pts]
def ys(pts): return [a[1] for a in pts]

def boxes(p,centers,box,colors,hw,lw,med):
    for c,(q1,m,q3,lo,hi),col in zip(centers,box,colors):
        p.segment([c,c],[q3,lo],[c,c],[hi,q1],line_color=col,line_width=lw)
        p.quad(left=[c-hw],right=[c+hw],bottom=[q1],top=[q3],fill_color="white",fill_alpha=.9,line_color=col,line_width=lw)
        p.segment([c-hw],[m],[c+hw],[m],line_color=col,line_width=med)

def bracket(p,a,b,y,drop,lab,size,lx):
    p.segment([a,a,b],[y,y,y],[b,a,b],[y,drop,drop],line_color="black",line_width=2.5)
    note(p,lx,y,lab,size,bold=False,base="bottom")

# ---------------- a ----------------
CA=(0,0,1.96,2.306)
pa=panel(CA,705,1558,1405,462,(705,0,800,1),(510,0,1363,12),L=366,B=80,T=190,R=6)
for c in range(1,9):
    if c==5:
        rows=range(4,13)
        pa.segment([c]*9,[r-.42 for r in rows],[c]*9,[r+.02 for r in rows],line_color="#777777",line_width=1.5)
    else:
        pa.segment([c],[-.55],[c],[12.2],line_color="#777777",line_width=1.5)
for r,row in enumerate(A_LINES):
    for c,end in enumerate(row):
        if end:
            pa.segment([c],[r],[c+end/A_XMAX[c]],[r],line_color="#333333",line_width=1.5)
for (r,c,z,n,k,h,e) in A_VIOLINS:
    vx=[0,n*.5,n,n+(k-n)*.25,n+(k-n)*.6,k,k+(e-k)*.3,k+(e-k)*.65,e]
    vh=[z,z*.32,.03,.25*h+.02,.8*h,h,.68*h,.2*h,0.01]
    px=[c+a/A_XMAX[c] for a in vx]
    pa.patch(px+px[::-1],[r-b for b in vh]+[r+b for b in vh[::-1]],fill_color=A_ROW_COLORS[r],line_color="#222222",line_width=1)
ticks=[c+2/A_XMAX[c] for c in range(9)]
minor=[c+t/A_XMAX[c] for c in range(9) for t in (0,.5,1,1.5,2.5) if t/A_XMAX[c]<1]
pa.xaxis.ticker=FixedTicker(ticks=ticks,minor_ticks=minor)
pa.xaxis.major_label_overrides={t:"2" for t in ticks}
pa.yaxis.ticker=FixedTicker(ticks=list(range(13)))
pa.yaxis.major_label_overrides={i:n for i,n in enumerate(A_ROWS)}
style(pa.xaxis[0],17,24,ts_off=6,lw=3,tick_color="#222222")
style(pa.yaxis[0],24,24,ts_off=3,lw=3,tick_color="black")
pa.xaxis[0].minor_tick_out=3; pa.xaxis[0].minor_tick_line_color="black"
pa.yaxis[0].major_tick_out=3
for i,g in enumerate(A_GENES):
    note(pa,i+.5,-.91,g,23.5,align="right",angle=-pi/2)
note(pa,(595-360)/48.45,14.18,"Expression Level",27)
note(pa,(14-360)/48.45,(355*2.306-510)/71.2,"Cell clusters",30,angle=pi/2)

# ---------------- b ----------------
CB1=(830,0,1.889,3); CB2=(830,500,1.889,3)
B_SPEC=[("CLIC5",B_CLIC5,CB1,170,755,664,127,(223,0,692,6000),(628,0,263,4000),[0,2000,4000,6000],[0,2000,4000],"red"),
 ("PDGFD",B_PDGFD,CB1,933,1520,664,127,(1025,1000,1448,4000),(628,0,263,4000),[1000,2000,3000,4000],[0,2000,4000],"red"),
 ("BDH2",B_BDH2,CB1,170,755,1402,865,(270,500,644,1500),(1365,0,1000,4000),[500,1000,1500],[0,2000,4000],"red"),
 ("ENPP1",B_ENPP1,CB1,933,1520,1402,865,(965,0,1361,2000),(1365,0,1000,4000),[0,1000,2000],[0,2000,4000],"red"),
 ("SLAMF8",B_SLAMF8,CB2,170,755,632,95,(199,0,659,1500),(560,0,136,5000),[0,500,1000,1500],[0,1000,2000,3000,4000,5000],"blue"),
 ("IL1RN",B_IL1RN,CB2,933,1520,632,95,(968,0,1395,900),(595,0,229,4000),[0,300,600,900],[0,2000,4000],"blue"),
 ("GK",B_GK,CB2,170,755,1390,853,(196,0,745,250),(1354,0,989,4000),[0,50,100,150,200,250],[0,2000,4000],"blue"),
 ("JAK2",B_JAK2,CB2,933,1520,1390,853,(1087,200,1487,600),(1353,0,987,4000),[200,400,600],[0,2000,4000],"blue")]
for gene,pts,crop,zl,zr,zb,zt,xc,yc,xt,yt,col in B_SPEC:
    p=panel(crop,zl,zr,zb,zt,xc,yc,R=14,B=60)
    p.scatter(xs(pts),ys(pts),size=7,color="#BEBEBE",line_color=None)
    f=B_FITS[gene]
    p.line(xs(f),ys(f),line_color=col,line_width=2.5)
    p.xaxis.ticker=FixedTicker(ticks=xt); p.yaxis.ticker=FixedTicker(ticks=yt)
    p.xaxis.axis_label=gene; p.yaxis.axis_label="HBEGF"
    style(p.xaxis[0],15.5,20.5,ts_off=1,l_off=2); style(p.yaxis[0],15.5,20.5,l_off=0)
    note(p,p.x_range.end,V(zt+14,zb,p.y_range.start,zt,p.y_range.end),f"Cor = {B_COR[gene]}",19,align="right")

# ---------------- c ----------------
C4=(0,680,2.306,2.306); C5=(0,1340,2.306,2.376)
CCOL=["#F05A3C","#0CC45F","#3058CC"]
C_SPEC=[("CLIC5",(CLIC5_H,CLIC5_O,CLIC5_R),CLIC5_BOX,C4,202,658,707,190,(287,431,574),(660,0,244,6000),[0,2000,4000,6000],6345,6100,"**",2.05),
 ("SLAMF8",(SLAMF8_H,SLAMF8_O,SLAMF8_R),SLAMF8_BOX,C4,1000,1452,709,197,(1085,1226,1369),(682,0,282,1500),[0,500,1000,1500],1699,1639,"***",2.07),
 ("PDGFD",(PDGFD_H,PDGFD_O,PDGFD_R),PDGFD_BOX,C4,202,658,1441,922,(287,431,574),(1359,1000,986,4000),[1000,2000,3000,4000],4209,4065,"**",2.05),
 ("IL1RN",(IL1RN_H,IL1RN_O,IL1RN_R),IL1RN_BOX,C4,975,1452,1443,930,(1064,1213,1364),(1411,0,1038,900),[0,300,600,900],1059,1016,"NS",2.07),
 ("BDH2",(BDH2_H,BDH2_O,BDH2_R),BDH2_BOX,C5,202,658,649,115,(287,431,574),(557,500,217,1500),[500,1000,1500],1676,1618,"***",2.08),
 ("GK",(GK_H,GK_O,GK_R),GK_BOX,C5,975,1452,651,124,(1064,1214,1364),(627,0,131,250),[0,50,100,150,200,250],233,224,"NS",2.07),
 ("ENPP1",(ENPP1_H,ENPP1_O,ENPP1_R),ENPP1_BOX,C5,202,658,1393,860,(287,431,574),(1365,0,1006,2000),[0,1000,2000],2652,2551,"*",2.02),
 ("JAK2",(JAK2_H,JAK2_O,JAK2_R),JAK2_BOX,C5,975,1452,1395,868,(1064,1214,1364),(1257,200,897,600),[200,400,600],579,559,"***",2.05)]
for gene,groups,box,crop,zl,zr,zb,zt,cx,yc,yt,by,bd,lab,lx in C_SPEC:
    p=panel(crop,zl,zr,zb,zt,(cx[0],1,cx[2],3),yc,B=75)
    mid=(cx[1]-cx[0])/(cx[2]-cx[0])*2+1
    for c,pts,col in zip([1,mid,3],groups,CCOL):
        p.scatter([c+a for a in xs(pts)],ys(pts),size=8,color=col,line_color=None)
    boxes(p,[1,mid,3],box,CCOL,.2,2.5,4)
    bracket(p,1,3,by,bd,lab,23 if lab=="NS" else 19,lx)
    p.xaxis.ticker=FixedTicker(ticks=[1,mid,3])
    p.xaxis.major_label_overrides={t:n for t,n in zip([1,mid,3],C_GROUPS)}
    p.yaxis.ticker=FixedTicker(ticks=yt)
    p.xaxis.axis_label="Disease"; p.yaxis.axis_label=gene
    style(p.xaxis[0],20,27,ts_off=0,l_off=0); style(p.yaxis[0],20,27,l_off=3)

# ---------------- d ----------------
C6=(680,1040,1.457,2.613)
TEAL="#4A8C8C"; ORNG="#F47A1F"
D_SPEC=[("CLIC5",D_CLIC5_B,D_CLIC5_A,D_CLIC5_BOX,148,384,606,100,(212,320),(587,0,191,60000),[0,20000,40000,60000],68800,66500,"*"),
 ("PDGFD",D_PDGFD_B,D_PDGFD_A,D_PDGFD_BOX,531,767,608,103,(595,703),(496,4000,122,16000),[4000,8000,12000,16000],15810,15270,"*"),
 ("BDH2",D_BDH2_B,D_BDH2_A,D_BDH2_BOX,906,1155,608,103,(974,1087),(518,1000,201,2500),[1000,1500,2000,2500],2821,2740,"*"),
 ("ENPP1",D_ENPP1_B,D_ENPP1_A,D_ENPP1_BOX,1309,1545,608,103,(1373,1481),(606,0,266,10000),[0,5000,10000],13790,13260,"*"),
 ("SLAMF8",D_SLAMF8_B,D_SLAMF8_A,D_SLAMF8_BOX,142,400,1423,900,(212,329),(1405,0,1009,3000),[0,1000,2000,3000],3493,3356,"*"),
 ("IL1RN",D_IL1RN_B,D_IL1RN_A,D_IL1RN_BOX,524,794,1437,915,(597,721),(1417,0,1060,400),[0,200,400],529,510,"NS"),
 ("GK",D_GK_B,D_GK_A,D_GK_BOX,923,1181,1437,915,(993,1111),(1286,500,1090,1000),[500,1000],1362,1311,"NS"),
 ("JAK2",D_JAK2_B,D_JAK2_A,D_JAK2_BOX,1309,1567,1437,915,(1378,1496),(1362,2000,937,5000),[2000,3000,4000,5000],4888,4768,"**")]
for gene,bef,aft,box,zl,zr,zb,zt,cx,yc,yt,by,bd,lab in D_SPEC:
    p=panel(C6,zl,zr,zb,zt,(cx[0],1,cx[1],2),yc,B=70,R=0)
    cols=[ORNG if a>b else TEAL for b,a in zip(bef,aft)]
    p.segment([1]*len(bef),bef,[2]*len(bef),aft,line_color=cols,line_width=2.5)
    p.scatter([1]*len(bef),bef,size=6,color=cols,line_color=None)
    p.scatter([2]*len(aft),aft,size=6,color=cols,line_color=None)
    boxes(p,[1,2],box,[TEAL,ORNG],.15,2.5,4)
    bracket(p,1,2,by,bd,lab,24 if lab=="NS" else 18,1.55)
    p.xaxis.ticker=FixedTicker(ticks=[1,2]); p.xaxis.major_label_overrides={1:"Before",2:"After"}
    p.yaxis.ticker=FixedTicker(ticks=yt)
    p.xaxis.axis_label="Treatment"; p.yaxis.axis_label=gene
    style(p.xaxis[0],17,23,ts_off=0,l_off=-3); style(p.yaxis[0],17,22.5,l_off=4)

# ---------------- e ----------------
C7=(680,1620,1.457,3)
pe=panel(C7,112,590,966,292,(313,0,525,10),(592.5,0,324,10),B=65,R=4)
E_POLYS=[U_FIBRO,U_MACRO,U_ENDO,U_B,U_T,U_MURAL,U_STMN]
pe.patches([xs(s) for s in E_POLYS],[ys(s) for s in E_POLYS],fill_color=E_COLORS,line_color=E_COLORS,line_width=1)
pe.scatter(xs(U_STRAY),ys(U_STRAY),size=3,color=[s[2] for s in U_STRAY],line_color=None)
pe.xaxis.ticker=FixedTicker(ticks=[-5,0,5,10]); pe.yaxis.ticker=FixedTicker(ticks=[-10,-5,0,5,10])
pe.xaxis.axis_label="UMAP_1"; pe.yaxis.axis_label="UMAP_2"
style(pe.xaxis[0],15,17,l_off=6,tick_color="#222222"); style(pe.yaxis[0],15,17,l_off=4,tick_color="#222222")
pe.yaxis[0].axis_line_width=1.5

# legend mini-figures: local pixel rows
def blank(x,y,w,h):
    p=figure(width=w,height=h,frame_width=w,frame_height=h,frame_align=False,x_range=Range1d(0,w),y_range=Range1d(h,0),min_border=0,output_backend="svg",toolbar_location=None,
             x_axis_location=None,y_axis_location=None,background_fill_alpha=0,border_fill_alpha=0,outline_line_color=None)
    p.grid.visible=False
    place(p,x,y)
    return p
le=blank(1075,1770,220,125)
rows_e=[12.3,29,45.3,62.7,79.7,97,114]
le.scatter([8]*7,rows_e,size=9,color=E_COLORS,line_color=None)
le.text([15]*7,rows_e,text=E_NAMES,text_font=value(FONT),text_font_style="bold",text_font_size="15.5px",text_baseline="middle",text_color="black")

# ---------------- f ----------------
pf=panel(C7,1040,1483,954,382,(1041,-10,1409,10),(864,-10,433,10),B=65,T=70,R=50)
F_POLYS=[U_FIBRO,U_MACRO,U_ENDO,U_B,U_T,U_MURAL,U_STMN]
pf.patches([xs(s) for s in F_POLYS],[ys(s) for s in F_POLYS],fill_color="#BEBEBE",line_color="#BEBEBE",line_width=1)
pf.scatter(xs(F_SPECK),ys(F_SPECK),size=2.5,color="#F0705A",line_color=None)
pf.patches([xs(F_HOT2),xs(F_HOT1)],[ys(F_HOT2),ys(F_HOT1)],fill_color=["#E5968A","#F4513C"],line_color=["#E5968A","#F4513C"])
pf.xaxis.ticker=FixedTicker(ticks=[-10,-5,0,5,10]); pf.yaxis.ticker=FixedTicker(ticks=[-10,-5,0,5,10])
pf.xaxis.axis_label="UMAP_1"; pf.yaxis.axis_label="UMAP_2"
style(pf.xaxis[0],17,19,l_off=6,tick_color="#222222"); style(pf.yaxis[0],17,19,l_off=4,tick_color="#222222")
pf.yaxis[0].axis_line_width=1.5
note(pf,V(1280,1041,-10,1409,10),V(325,864,-10,433,10),"Hbegf",30)
def mix(t):
    a=(0xBE,0xBE,0xBE); b=(0xFF,0x20,0x10)
    return "#%02X%02X%02X"%tuple(int(a[i]+(b[i]-a[i])*t) for i in range(3))
mapper=LinearColorMapper(palette=[mix(i/63) for i in range(64)],low=0,high=5)
cb=ColorBar(color_mapper=mapper,ticker=FixedTicker(ticks=F_TICKS),location=(round((1502-1040)/1.457),round((954-790)/3)),width=15,height=73,padding=0,margin=0,
            major_label_text_font=FONT,major_label_text_font_style="bold",major_label_text_font_size="12px",major_tick_line_color=None,bar_line_color=None,label_standoff=3,background_fill_alpha=0)
pf.add_layout(cb,"center")

# ---------------- g ----------------
C8=(0,2000,1.633,3)
pg=panel(C8,285,896,1107,198,(313,0,864,1000),(892,0,1107,-.2),B=80,T=14,R=4)
G_SERIES=[G_FIBP,G_MACP,G_FIBM,G_MACM,G_MURAL,G_ENDO,G_CD4,G_CD8,G_NK,G_PBM,G_PLASMA,G_B,G_STMN]
order=[8,10,6,3,1,7,9,11,12,5,4,2,0]
for i in order:
    pg.line(xs(G_SERIES[i]),ys(G_SERIES[i]),line_color=G_COLORS[i],line_width=3)
pg.xaxis.ticker=FixedTicker(ticks=[0,250,500,750,1000]); pg.yaxis.ticker=FixedTicker(ticks=[-.2,0,.2,.4,.6])
pg.yaxis.formatter=NumeralTickFormatter(format="0.0")
pg.xaxis.axis_label="Rank"; pg.yaxis.axis_label="Enrichment Score"
style(pg.xaxis[0],17.5,31,l_off=2,tick_color="#222222"); style(pg.yaxis[0],17.5,32,l_off=13,tick_color="#222222")
lg=blank(560,2075,400,295)
rows_g=[15.7+21.67*i for i in range(13)]
lg.quad(left=[9.5],right=[31],top=[5],bottom=[287],fill_color="#F2F2F2",line_color=None)
lg.segment([12]*13,rows_g,[29]*13,rows_g,line_color=G_COLORS,line_width=3)
lg.text([38]*13,rows_g,text=G_NAMES,text_font=value(FONT),text_font_style="bold",text_font_size="22px",text_baseline="middle",text_color="black")

# ---------------- h ----------------
ph=figure(width=402,height=402,frame_width=402,frame_height=402,frame_align=False,x_range=Range1d(-201,201),y_range=Range1d(-201,201),min_border=0,output_backend="svg",toolbar_location=None,
          x_axis_location=None,y_axis_location=None,background_fill_alpha=0,border_fill_alpha=0,outline_line_color=None)
ph.grid.visible=False
place(ph,1289-201,2277-201)
H_R=[(0,62.5),(69,132),(138,200)]
BLUE="#8C9FCB"; CORAL="#FC8D62"
for (r0,r1),pct in zip(H_R,H_PCT):
    a=pi/2-pct/100*2*pi
    ph.annular_wedge([0],[0],inner_radius=r0,outer_radius=r1,start_angle=a,end_angle=pi/2,fill_color=CORAL,line_color=None)
    ph.annular_wedge([0],[0],inner_radius=r0,outer_radius=r1,start_angle=pi/2,end_angle=a+2*pi,fill_color=BLUE,line_color=None)
ph.text([33.5,50,112.5],[32,82,127],text=[f"{v}%" for v in H_PCT],text_font=value(FONT),text_font_style="bold",text_font_size="24px",text_align="center",text_baseline="middle",text_color="black")
ph.text([3.5,2,2],[-19,-99,-168],text=H_RINGS,text_font=value(FONT),text_font_style="bold",text_font_size="24px",text_align="center",text_baseline="middle",text_color="#4D4D4D")
lh=blank(1050,2028,560,30)
lh.quad(left=[4,249.5],right=[20.5,266],top=[6,6],bottom=[23,23],fill_color=[BLUE,CORAL],line_color=None)
lh.text([27,274],[14.5,14.5],text=H_LEGEND,text_font=value(FONT),text_font_style="bold",text_font_size="24px",text_baseline="middle",text_color="black")

# ---------------- page overlay: panel letters and free texts ----------------
LETTERS=["a","b","c","d","e","f","g","h"]
lt=blank(0,0,1750,2476)
lt.text([3,830,2,698,697,1298,0,963],[43,43,715,1033,1695,1695,2065,2068],text=LETTERS,text_font=value(FONT),text_font_size="58px",text_baseline="alphabetic",text_color="black")
for (px,py,t,size,bold,color,align,base,angle) in OVERLAY:
    lt.text([px],[py],text=[t],text_font=value(FONT),text_font_size=f"{size}px",text_font_style="bold" if bold else "normal",
            text_color=color,text_align=align,text_baseline=base,angle=angle)

page=column(*FIGS,width=1740,height=2464,styles={"position":"relative"})
open("out.html","w").write(file_html(page,INLINE))
